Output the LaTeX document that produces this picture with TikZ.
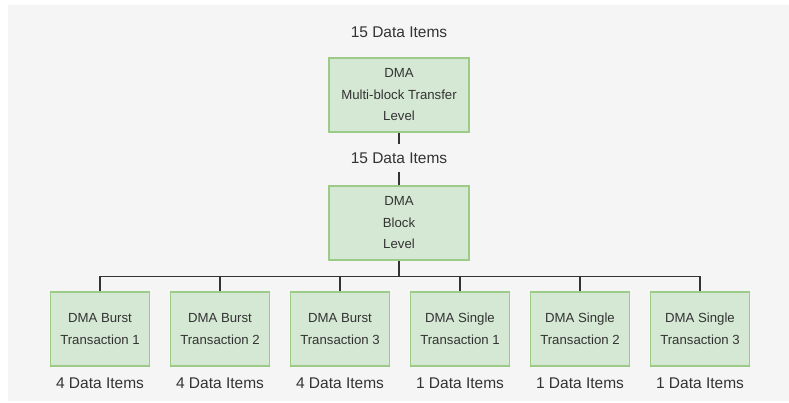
\documentclass[tikz,border=0pt]{standalone}
\usepackage{fontspec}
\setmainfont{Liberation Sans}
\usepackage{xcolor}
\usetikzlibrary{positioning}

\definecolor{panelgray}{HTML}{F5F5F5}
\definecolor{boxfill}{HTML}{D5E8D4}
\definecolor{boxline}{HTML}{9CCB87}
\definecolor{inkgray}{HTML}{333333}

\begin{document}
\begin{tikzpicture}[
      x=1pt, y=-1pt,
      node distance=19.8pt,
      level/.style={draw=boxline, fill=boxfill, line width=1.2pt, align=center,
        text=inkgray, minimum width=140pt, minimum height=74pt, inner sep=0pt,
        font=\fontsize{13.2}{21.5}\selectfont},
      txn/.style={level, minimum width=99pt},
      count/.style={text=inkgray, inner xsep=3pt, inner ysep=8pt,
        font=\fontsize{15.5}{18}\selectfont},
      link/.style={draw=inkgray, line width=1.2pt}
    ]
    \useasboundingbox (0,0) rectangle (789,403);
    \fill[white] (0,0) rectangle (789,403);
    \fill[panelgray] (8,5) rectangle (789,401);

    % upper levels
    \node[count] (toplbl) at (399,32) {15 Data Items};
    \node[level] (mbt) at (399,95) {DMA\\Multi-block Transfer\\Level};
    \node[count] (midlbl) at (399,158) {15 Data Items};
    \node[level] (blk) at (399,223) {DMA\\Block\\Level};

    % transactions
    \node[txn] (b1) at (100,329) {DMA Burst\\Transaction 1};
    \node[txn] (b2) [right=of b1] {DMA Burst\\Transaction 2};
    \node[txn] (b3) [right=of b2] {DMA Burst\\Transaction 3};
    \node[txn] (s1) [right=of b3] {DMA Single\\Transaction 1};
    \node[txn] (s2) [right=of s1] {DMA Single\\Transaction 2};
    \node[txn] (s3) [right=of s2] {DMA Single\\Transaction 3};

    \node[count] (c1) [below=3pt of b1] {4 Data Items};
    \node[count] (c2) [below=3pt of b2] {4 Data Items};
    \node[count] (c3) [below=3pt of b3] {4 Data Items};
    \node[count] (c4) [below=3pt of s1] {1 Data Items};
    \node[count] (c5) [below=3pt of s2] {1 Data Items};
    \node[count] (c6) [below=3pt of s3] {1 Data Items};

    % connectors
    \draw[link] (mbt) -- (midlbl);
    \draw[link] (midlbl) -- (blk);
    \coordinate[below=16pt of blk] (bus);
    \draw[link] (blk) -- (bus);
    \draw[link] (bus) -| (b1);
    \draw[link] (bus) -| (b2);
    \draw[link] (bus) -| (b3);
    \draw[link] (bus) -| (s1);
    \draw[link] (bus) -| (s2);
    \draw[link] (bus) -| (s3);
  \end{tikzpicture}
\end{document}
